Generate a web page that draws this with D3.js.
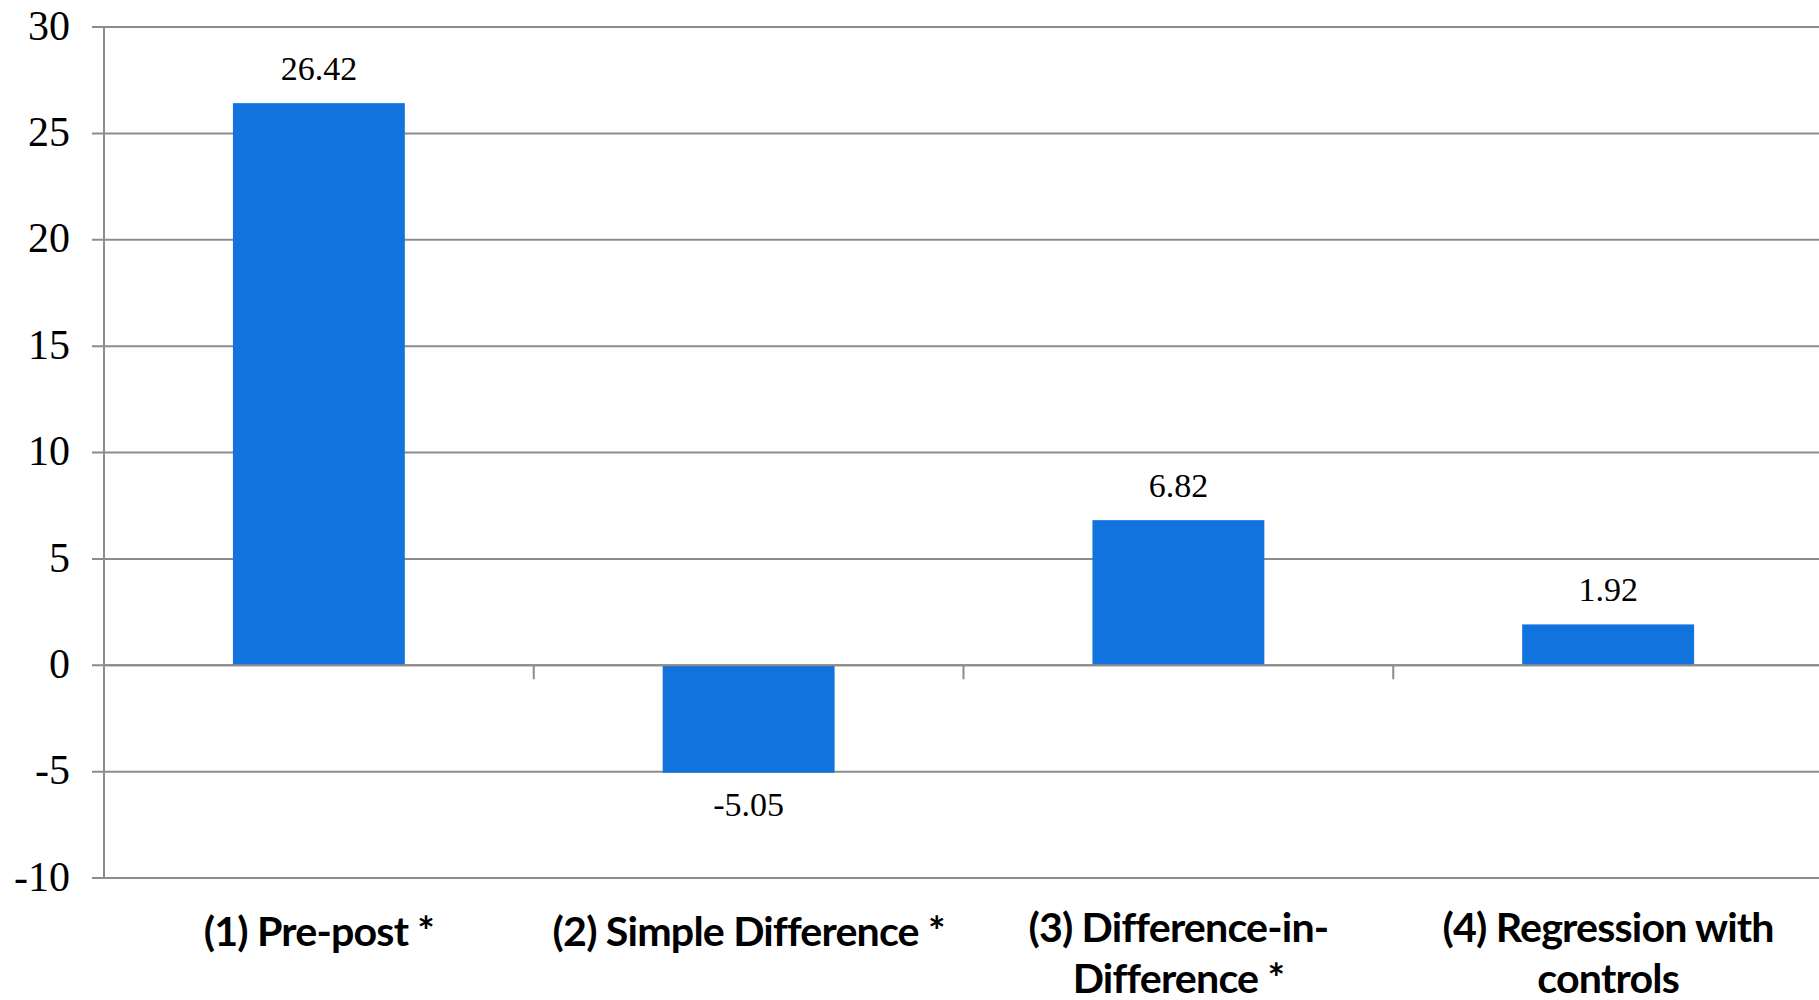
<!DOCTYPE html>
<html>
<head>
<meta charset="utf-8">
<script src="https://cdn.jsdelivr.net/npm/d3@7"></script>
<style>
  html, body { margin: 0; padding: 0; background: #ffffff; }
  svg { display: block; }
</style>
</head>
<body>
<svg id="chart" width="1819" height="1000"></svg>
<script>
// Estimated effect by evaluation method
const categories = ["(1) Pre-post *", "(2) Simple Difference *", "(3) Difference-in-Difference *", "(4) Regression with controls"];
const categoryLines = [["(1) Pre-post *"], ["(2) Simple Difference *"], ["(3) Difference-in-", "Difference *"], ["(4) Regression with", "controls"]];
const values = [26.42, -5.05, 6.82, 1.92];
const yTicks = [-10, -5, 0, 5, 10, 15, 20, 25, 30];

(function () {
  const plotLeft = 104, plotRight = 1823, plotTop = 27, plotBottom = 878;
  const gridColor = "#8c8c8c";
  const barColor = "#1273de";

  const svg = d3.select("#chart");

  const x = d3.scaleBand()
    .domain(categories)
    .range([plotLeft, plotRight])
    .paddingInner(0.6)
    .paddingOuter(0.3);

  const y = d3.scaleLinear()
    .domain([-10, 30])
    .range([plotBottom, plotTop]);

  // horizontal gridlines (behind the bars), with short ticks left of the axis
  svg.append("g")
    .selectAll("line")
    .data(yTicks)
    .join("line")
    .attr("x1", plotLeft - 12)
    .attr("x2", plotRight)
    .attr("y1", d => y(d))
    .attr("y2", d => y(d))
    .attr("stroke", gridColor)
    .attr("stroke-width", 2);

  // y tick labels
  svg.append("g")
    .selectAll("text")
    .data(yTicks)
    .join("text")
    .attr("x", 70)
    .attr("y", d => y(d) - 2)
    .attr("dy", "0.35em")
    .attr("text-anchor", "end")
    .attr("font-family", "'Liberation Serif', 'Times New Roman', serif")
    .attr("font-size", 42)
    .attr("fill", "#000")
    .text(d => d);

  // bars
  svg.append("g")
    .selectAll("rect")
    .data(values)
    .join("rect")
    .attr("x", (d, i) => x(categories[i]))
    .attr("width", x.bandwidth())
    .attr("y", d => y(Math.max(0, d)))
    .attr("height", d => Math.abs(y(d) - y(0)))
    .attr("fill", barColor);

  // vertical axis line
  svg.append("line")
    .attr("x1", plotLeft).attr("x2", plotLeft)
    .attr("y1", plotTop).attr("y2", plotBottom)
    .attr("stroke", gridColor)
    .attr("stroke-width", 2);

  // category axis along zero, drawn over the bars, with ticks between categories
  svg.append("line")
    .attr("x1", plotLeft).attr("x2", plotRight)
    .attr("y1", y(0)).attr("y2", y(0))
    .attr("stroke", gridColor)
    .attr("stroke-width", 2);

  const step = x.step();
  svg.append("g")
    .selectAll("line")
    .data(categories.slice(1))
    .join("line")
    .attr("x1", d => x(d) - step * x.paddingInner() / 2)
    .attr("x2", d => x(d) - step * x.paddingInner() / 2)
    .attr("y1", y(0))
    .attr("y2", y(0) + 14)
    .attr("stroke", gridColor)
    .attr("stroke-width", 2);

  // value labels
  svg.append("g")
    .selectAll("text")
    .data(values)
    .join("text")
    .attr("x", (d, i) => x(categories[i]) + x.bandwidth() / 2)
    .attr("y", d => d >= 0 ? y(d) - 23 : y(d) + 43)
    .attr("text-anchor", "middle")
    .attr("font-family", "'Liberation Serif', 'Times New Roman', serif")
    .attr("font-size", 34)
    .attr("fill", "#000")
    .text(d => d.toFixed(2));

  // category labels
  const labelG = svg.append("g");
  categoryLines.forEach((lines, i) => {
    const cx = x(categories[i]) + x.bandwidth() / 2;
    const base = lines.length > 1 ? 942 : 946;
    const t = labelG.append("text")
      .attr("transform", `translate(${cx},0) scale(1.03,1)`)
      .attr("text-anchor", "middle")
      .attr("font-family", "Lato, 'Open Sans', sans-serif")
      .attr("font-weight", 700)
      .attr("font-size", 40)
      .attr("letter-spacing", -0.8)
      .attr("fill", "#000");
    lines.forEach((ln, j) => {
      t.append("tspan")
        .attr("x", 0)
        .attr("y", base + j * 51)
        .text(ln);
    });
  });
})();
</script>
</body>
</html>
